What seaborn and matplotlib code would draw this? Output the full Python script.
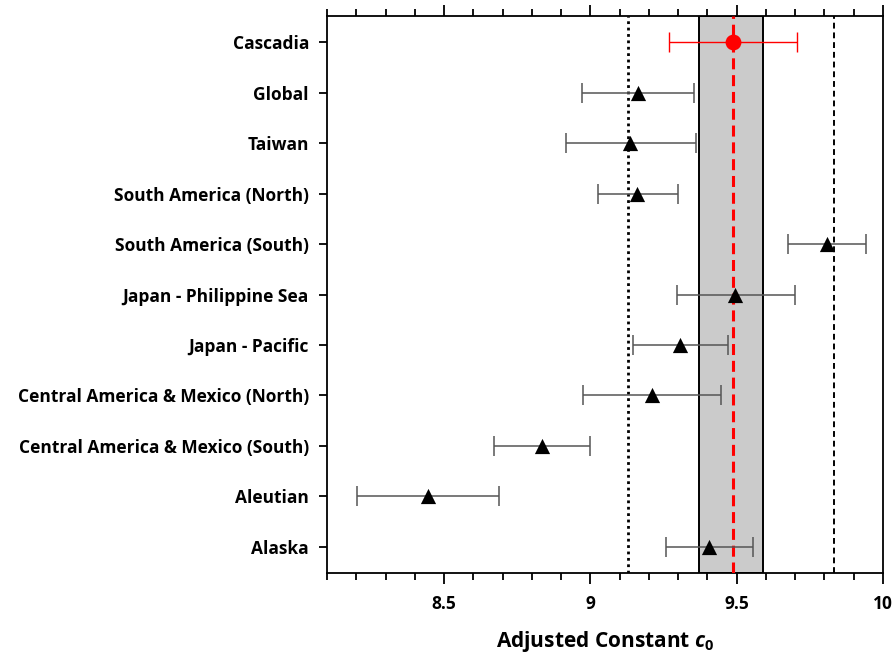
import numpy as np
import pandas as pd
import matplotlib
matplotlib.use("Agg")
import matplotlib.pyplot as plt
import seaborn as sns
from matplotlib.ticker import MultipleLocator

# ---- data ----
regions = ["Cascadia", "Global", "Taiwan", "South America (North)",
           "South America (South)", "Japan - Philippine Sea", "Japan - Pacific",
           "Central America & Mexico (North)", "Central America & Mexico (South)",
           "Aleutian", "Alaska"]
c0 = [9.486, 9.164, 9.137, 9.161, 9.808, 9.493, 9.308, 9.212, 8.836, 8.445, 9.404]
lower = [9.267, 8.973, 8.918, 9.027, 9.675, 9.295, 9.144, 8.976, 8.671, 8.202, 9.257]
upper = [9.705, 9.353, 9.360, 9.298, 9.942, 9.699, 9.469, 9.445, 9.000, 8.688, 9.555]

cascadia_mean = 9.486
band_low, band_high = 9.370, 9.589
dotted_ref = 9.130
dashed_ref = 9.832

xticks = [8.5, 9, 9.5, 10]
xtick_labels = ["8.5", "9", "9.5", "10"]

df = pd.DataFrame({"region": regions, "c0": c0, "lower": lower, "upper": upper})
df["pos"] = np.arange(len(df))

sns.set_theme(style="ticks")
plt.rcParams["font.family"] = ["Open Sans", "DejaVu Sans"]
plt.rcParams["text.color"] = "black"
plt.rcParams["axes.labelcolor"] = "black"
plt.rcParams["mathtext.fontset"] = "custom"
plt.rcParams["mathtext.it"] = "Open Sans:bold:italic"
plt.rcParams["mathtext.rm"] = "Open Sans:bold"

fig = plt.figure(figsize=(8.96, 6.57), dpi=100)
ax = fig.add_axes([327/896, 1-573/657, (883-327)/896, (573-16)/657])

# shaded band and reference lines
ax.axvspan(band_low, band_high, facecolor="#cbcbcb", edgecolor="black", lw=1.4, zorder=1)
ax.axvline(dotted_ref, color="black", lw=2.0, dashes=(1, 1.3), zorder=2)
ax.axvline(dashed_ref, color="black", lw=1.4, dashes=(3, 2), zorder=2)
ax.axvline(cascadia_mean, color="red", lw=2.2, dashes=(3.6, 1.9), zorder=3)

others = df.iloc[1:]
casc = df.iloc[:1]

ax.errorbar(others["c0"], others["pos"],
            xerr=[others["c0"] - others["lower"], others["upper"] - others["c0"]],
            fmt="none", ecolor="#555555", elinewidth=1.1, capsize=7, capthick=1.1, zorder=4)
ax.errorbar(casc["c0"], casc["pos"],
            xerr=[casc["c0"] - casc["lower"], casc["upper"] - casc["c0"]],
            fmt="none", ecolor="red", elinewidth=1.0, capsize=7, capthick=1.0, zorder=4)

sns.scatterplot(data=others, x="c0", y="pos", marker="^", s=120, color="black",
                edgecolor="black", linewidth=0, ax=ax, zorder=5, legend=False)
sns.scatterplot(data=casc, x="c0", y="pos", marker="o", s=130, color="red",
                edgecolor="red", linewidth=0, ax=ax, zorder=5, legend=False)

ax.set_xlim(8.1, 10.0)
ax.set_ylim(len(regions) - 1 + 0.52, -0.52)
ax.set_yticks(df["pos"])
ax.set_yticklabels(regions, fontsize=12.5, fontweight="bold", color="black")
ax.set_xticks(xticks)
ax.set_xticklabels(xtick_labels, fontsize=12.5, fontweight="bold", color="black")
ax.xaxis.set_minor_locator(MultipleLocator(0.1))

ax.tick_params(axis="x", which="major", direction="out", length=8, width=1.3,
               top=True, bottom=True, pad=8, color="black")
ax.tick_params(axis="x", which="minor", direction="out", length=5, width=1.3,
               top=True, bottom=True, color="black")
ax.tick_params(axis="y", which="major", direction="out", length=6, width=1.3,
               left=True, right=False, pad=7, color="black")
for s in ax.spines.values():
    s.set_visible(True)
    s.set_linewidth(1.3)
    s.set_color("black")

ax.set_ylabel("")
ax.set_xlabel(r"Adjusted Constant $c_0$", fontsize=15, fontweight="bold",
              labelpad=11, color="black")

fig.savefig("out.png", dpi=100)
